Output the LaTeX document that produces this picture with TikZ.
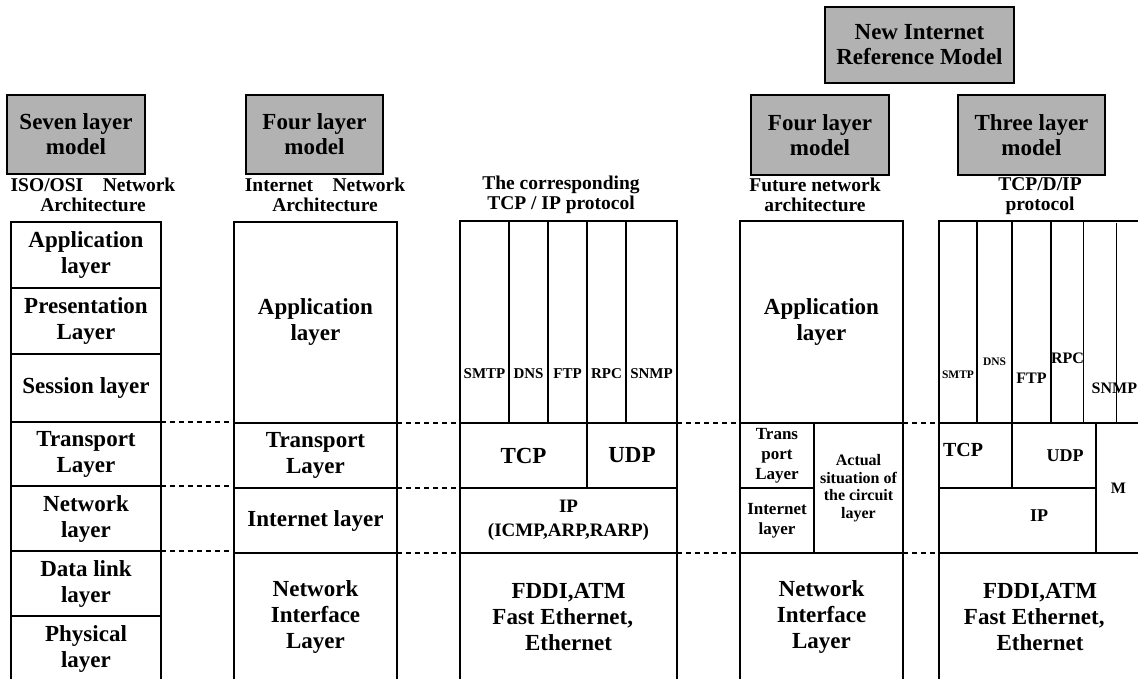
\documentclass[tikz,border=0pt]{standalone}
\usepackage{fontspec}
\setmainfont{Liberation Serif}
\usetikzlibrary{positioning}

\begin{document}
\begin{tikzpicture}[
    x=1pt, y=-1pt,
    layer/.style={rectangle, draw=black, line width=1.2pt, inner sep=0pt, outer sep=0pt, align=center, anchor=north west, font=\fontsize{23}{26}\selectfont\bfseries},
    model/.style={layer, fill=gray!60, font=\fontsize{23}{25}\selectfont\bfseries},
    caption/.style={align=center, inner sep=0pt, font=\fontsize{19.5}{20}\selectfont\bfseries},
    proto/.style={layer, minimum height=202pt, font=\fontsize{15}{15}\selectfont\bfseries},
    small/.style={font=\fontsize{11.5}{12}\selectfont\bfseries},
    medium/.style={font=\fontsize{16}{16}\selectfont\bfseries},
    divider/.style={line width=1.2pt, dash pattern=on 5pt off 4pt}
]
\path[use as bounding box, clip] (0,0) rectangle (1138,679);

% Models
\node (seven) [model, minimum width=138pt, minimum height=79pt] at (7,95) {Seven layer\\model};
\node (four) [model, minimum width=137pt, minimum height=79pt] at (246,95) {Four layer\\model};
\node (newref) [model, minimum width=189pt, minimum height=76pt] at (825,7) {New Internet\\Reference Model};
\node (fourF) [model, minimum width=138pt, minimum height=80pt] at (751,95) {Four layer\\model};
\node (three) [model, minimum width=147pt, minimum height=80pt] at (958,95) {Three layer\\model};

\node (isocap) [caption] at (93,195) {ISO/OSI\quad Network\\Architecture};
\node (inetcap) [caption] at (325,195) {Internet\quad Network\\Architecture};
\node (tcpcap) [caption] at (561,195) {The corresponding\\TCP / IP protocol};
\node (futcap) [caption] at (815,195) {Future network\\architecture};
\node (tdicap) [caption] at (1040,196) {TCP/D/IP\\protocol};

% Seven layers
\node (app7) [layer, minimum width=150pt, minimum height=66pt] at (11,222) {Application\\layer};
\node (pres7) [layer, minimum width=150pt, minimum height=66pt, below=0pt of app7] {Presentation\\Layer};
\node (sess7) [layer, minimum width=150pt, minimum height=68pt, below=0pt of pres7] {Session layer};
\node (trans7) [layer, minimum width=150pt, minimum height=64pt, below=0pt of sess7] {Transport\\Layer};
\node (net7) [layer, minimum width=150pt, minimum height=65pt, below=0pt of trans7] {Network\\layer};
\node (dl7) [layer, minimum width=150pt, minimum height=65pt, below=0pt of net7] {Data link\\layer};
\node (phys7) [layer, minimum width=150pt, minimum height=65pt, below=0pt of dl7] {Physical\\layer};

% Four layers
\node (app4) [layer, minimum width=163pt, minimum height=201pt] at (234,222) {Application\\layer};
\node (trans4) [layer, minimum width=163pt, minimum height=65pt, below=0pt of app4] {Transport\\Layer};
\node (inet4) [layer, minimum width=163pt, minimum height=65pt, below=0pt of trans4] {Internet layer};
\node (nif4) [layer, minimum width=163pt, minimum height=128pt, below=0pt of inet4] {Network\\Interface\\Layer};

% TCP/IP protocols
\node (smtp3) [proto, minimum width=49pt, text height=157pt, text depth=45pt] at (460,221) {SMTP};
\node (dns3) [proto, minimum width=39pt, text height=157pt, text depth=45pt, right=0pt of smtp3] {DNS};
\node (ftp3) [proto, minimum width=39pt, text height=157pt, text depth=45pt, right=0pt of dns3] {FTP};
\node (rpc3) [proto, minimum width=39pt, text height=157pt, text depth=45pt, right=0pt of ftp3] {RPC};
\node (snmp3) [proto, minimum width=51pt, text height=157pt, text depth=45pt, right=0pt of rpc3] {SNMP};
\node (tcp3) [layer, minimum width=127pt, minimum height=65pt] at (smtp3.south west) {TCP};
\node (udp3) [layer, minimum width=90pt, minimum height=65pt, right=0pt of tcp3] {UDP};
\node (ip3) [layer, minimum width=217pt, minimum height=65pt, font=\fontsize{19}{24}\selectfont\bfseries] at (tcp3.south west) {IP\\(ICMP,ARP,RARP)};
\node (phy3) [layer, minimum width=217pt, minimum height=128pt] at (ip3.south west) {FDDI,ATM\\Fast Ethernet,\kern.5em\\Ethernet};

% Future network
\node (appF) [layer, minimum width=163pt, minimum height=202pt] at (740,221) {Application\\layer};
\node (transF) [layer, minimum width=74pt, minimum height=65pt, font=\fontsize{17}{20}\selectfont\bfseries] at (appF.south west) {Trans\\port\\Layer};
\node (inetF) [layer, minimum width=74pt, minimum height=65pt, font=\fontsize{17}{20}\selectfont\bfseries] at (transF.south west) {Internet\\layer};
\node (actualF) [layer, minimum width=89pt, minimum height=130pt, font=\fontsize{16}{17.5}\selectfont\bfseries] at (transF.north east) {Actual\\situation of\\the circuit\\layer};
\node (nifF) [layer, minimum width=163pt, minimum height=128pt] at (inetF.south west) {Network\\Interface\\Layer};

% TCP/D/IP
\node (smtp5) [proto, small, minimum width=38pt, text height=157pt, text depth=45pt] at (939,221) {SMTP};
\node (dns5) [proto, small, minimum width=35pt, text height=144pt, text depth=58pt, right=0pt of smtp5] {DNS};
\node (ftp5) [proto, medium, minimum width=39pt, text height=162pt, text depth=40pt, right=0pt of dns5] {FTP};
\node (rpc5) [proto, medium, minimum width=29pt, text height=142pt, text depth=60pt, right=0pt of ftp5] {RPC};
\node (snmp5) [proto, medium, minimum width=61pt, text height=172pt, text depth=30pt, right=0pt of rpc5] {SNMP};
\draw [line width=1.2pt] ([xshift=33pt]snmp5.south west) -- ([xshift=33pt,yshift=-2pt]snmp5.north west);
\node (tcp5) [layer, minimum width=73pt, minimum height=65pt, label={[font=\fontsize{20}{20}\selectfont\bfseries, xshift=-12.5pt, yshift=5.5pt]center:TCP}] at (smtp5.south west) {};
\node (udp5) [layer, minimum width=84pt, minimum height=65pt, label={[font=\fontsize{18}{18}\selectfont\bfseries, xshift=11pt]center:UDP}, right=0pt of tcp5] {};
\node (m5) [layer, minimum width=45pt, minimum height=130pt, font=\fontsize{16}{16}\selectfont\bfseries] at (udp5.north east) {M};
\node (ip5) [layer, minimum width=157pt, minimum height=65pt, label={[font=\fontsize{18}{18}\selectfont\bfseries, xshift=21.5pt, yshift=4.5pt]center:IP}] at (tcp5.south west) {};
\node (phy5) [layer, minimum width=202pt, minimum height=128pt] at (ip5.south west) {FDDI,ATM\\Fast Ethernet,\kern.5em\\Ethernet};

% Dashed lines
\draw [divider] (sess7.south east) -- (sess7.south east -| trans4.west);
\draw [divider] (trans4.north east) -- (tcp3.north west);
\draw [divider] (udp3.north east) -- (transF.north west);
\draw [divider] (appF.south east) -- (tcp5.north west);
\draw [divider] (trans7.south east) -- (trans7.south east -| inet4.west);
\draw [divider] (inet4.north east) -- (ip3.north west);
\draw [divider] (net7.south east) -- (net7.south east -| nif4.west);
\draw [divider] (nif4.north east) -- (phy3.north west);
\draw [divider] (phy3.north east) -- (nifF.north west);
\draw [divider] (nifF.north east) -- (phy5.north west);

\end{tikzpicture}
\end{document}
